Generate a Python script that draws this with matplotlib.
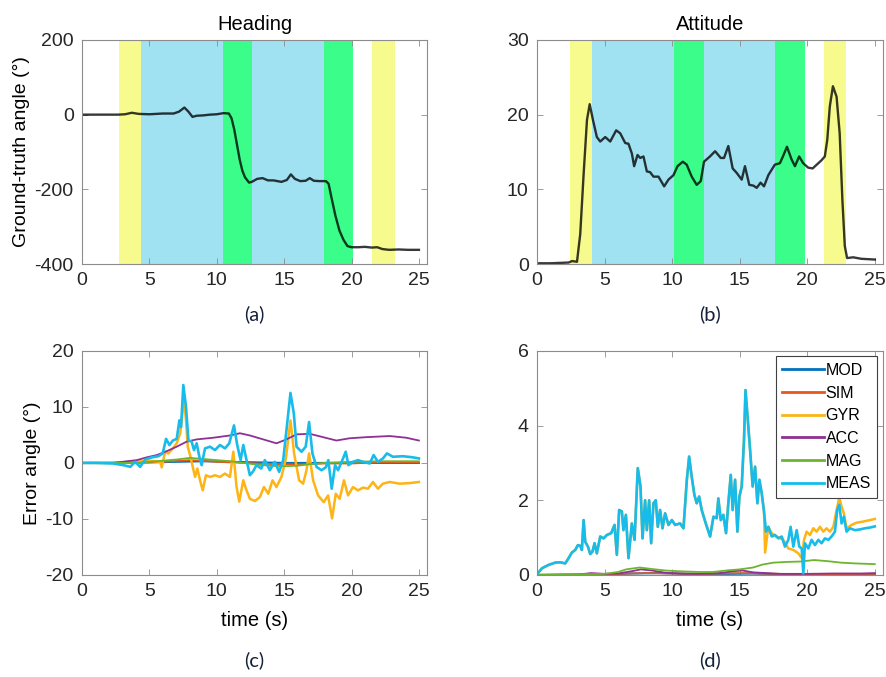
import numpy as np
import matplotlib
matplotlib.use("Agg")
import matplotlib.pyplot as plt

plt.rcParams['font.family'] = ['Liberation Sans', 'DejaVu Sans']
plt.rcParams['axes.unicode_minus'] = False

# ground truth heading (deg)
head_t = [0, 1, 2, 2.7, 3.2, 3.7, 4.2, 5, 6, 6.8, 7.2, 7.6, 7.9, 8.2, 8.5, 9, 9.5, 10, 10.5, 10.9,
          11.1, 11.3, 11.5, 11.7, 11.9, 12.1, 12.4, 12.6, 13, 13.4, 13.8, 14.2, 14.8, 15.2, 15.5, 15.8,
          16.2, 16.6, 16.9, 17.2, 17.6, 18.1, 18.3, 18.5, 18.8, 19.1, 19.4, 19.7, 20, 20.5, 21, 21.5,
          21.9, 22.3, 22.8, 23.5, 24.2, 25]
head_v = [0, 0, 0, 0, 1, 5, 2, 1, 3, 3, 8, 19, 8, -6, -3, -2, 0, 1, 4, 3,
          -10, -40, -80, -120, -150, -168, -182, -180, -172, -170, -176, -176, -180, -175, -160, -172,
          -178, -177, -170, -177, -178, -178, -185, -220, -270, -310, -335, -352, -355, -355, -354, -356,
          -355, -360, -362, -361, -362, -362]

# ground truth attitude (deg)
att_t = [0, 1, 2.34, 2.6, 2.96, 3.2, 3.45, 3.7, 3.9, 4.14, 4.43, 4.68, 5.05, 5.42, 5.86, 6.16, 6.53,
         6.77, 7.02, 7.19, 7.44, 7.64, 7.88, 8.13, 8.37, 8.62, 8.99, 9.41, 9.73, 10.1, 10.4, 10.79,
         11.08, 11.45, 11.82, 12.12, 12.36, 12.8, 13.18, 13.6, 13.84, 14.16, 14.48, 14.78, 15.15, 15.39,
         15.71, 16.01, 16.26, 16.55, 16.8, 17.12, 17.6, 17.98, 18.2, 18.5, 18.84, 19.09, 19.4, 19.7,
         20.07, 20.4, 20.7, 21.06, 21.3, 21.48, 21.67, 21.9, 22.17, 22.4, 22.6, 22.78, 22.95, 23.4,
         24.0, 25.0]
att_v = [0.1, 0.1, 0.2, 0.4, 0.3, 4, 12, 19.3, 21.4, 19.3, 17, 16.4, 17, 16.4, 17.9, 17.5, 16.2,
         16.1, 14.8, 13.1, 14.6, 14.2, 14.4, 12.4, 12.3, 11.7, 11.7, 10.4, 11.3, 11.9, 13.1, 13.7,
         13.3, 11.7, 10.6, 11.1, 13.7, 14.4, 15.1, 14.2, 14.2, 15.8, 12.8, 12.2, 11.3, 13.1,
         10.6, 10.5, 10.2, 10.9, 10.4, 11.9, 13.3, 13.5, 14.4, 15.7, 14.0, 13.1, 14.4, 13.5,
         12.9, 12.8, 13.3, 13.9, 14.4, 16.6, 21.1, 23.8, 22.4, 17.5, 8.6, 2.4, 0.8, 0.9,
         0.7, 0.6]

# motion phases (start, end, colour key)
head_phases = [(2.75, 4.35, 'y'), (4.35, 10.45, 'c'), (10.45, 12.65, 'g'), (12.65, 17.95, 'c'),
               (17.95, 20.1, 'g'), (21.55, 23.2, 'y')]
att_phases = [(2.45, 4.1, 'y'), (4.1, 10.15, 'c'), (10.15, 12.35, 'g'), (12.35, 17.65, 'c'),
              (17.65, 19.85, 'g'), (21.25, 22.85, 'y')]
phase_colors = {'y': '#F7FA8C', 'c': '#A0E1F2', 'g': '#3AFD8A'}

# heading errors
c_meas_t = [0, 1, 2.3, 3.08, 3.58, 3.95, 4.32, 4.69, 5.18, 5.67, 5.99, 6.24, 6.49, 6.74, 7.03, 7.23,
            7.35, 7.52, 7.72, 7.9, 8.14, 8.31, 8.51, 8.71, 8.88, 9.13, 9.5, 9.87, 10.24, 10.61, 10.93,
            11.28, 11.52, 11.77, 11.97, 12.21, 12.46, 12.7, 12.95, 13.3, 13.57, 13.94, 14.3, 14.63,
            14.93, 15.17, 15.47, 15.72, 15.92, 16.29, 16.6, 16.85, 17.1, 17.4, 17.77, 18.09, 18.28,
            18.53, 18.78, 19.0, 19.37, 19.57, 19.77, 20.11, 20.48, 20.85, 21.35, 21.64, 21.96, 22.33,
            22.63, 23.07, 23.81, 24.55, 25.0]
c_meas_v = [0, 0, -0.1, -0.4, -0.7, 0.2, -0.7, 0.6, 1.0, 1.2, 1.7, 4.3, 3.2, 4.0, 4.3, 7.6,
            6.4, 13.9, 10.0, 4.0, 3.8, 2.3, 3.5, 1.1, -0.4, 2.6, 2.9, 2.3, 3.2, 2.6, 3.5,
            6.7, 3.2, 0.5, 3.2, 0.5, -2.2, -1.5, -0.4, -1.0, 0.5, -1.3, 0.2, -1.6,
            0.5, 5.8, 12.5, 8.8, 2.9, 2.0, 2.9, 7.3, 1.7, -0.7, -1.3, -0.8, 0.5,
            -4.6, -0.4, -1.3, 0.8, 2.0, -0.4, 0.2, 0.5, 0.2, -0.1, 1.4, 0.2, 0.8,
            1.7, 1.1, 1.2, 1.0, 0.8]
c_gyr_t = [0, 2, 4, 5, 5.8, 5.92, 6.17, 6.41, 6.74, 7.03, 7.28, 7.43, 7.57, 7.72, 7.85, 8.02, 8.22,
           8.39, 8.56, 8.76, 8.96, 9.2, 9.5, 9.87, 10.24, 10.61, 10.98, 11.23, 11.47, 11.67, 11.97,
           12.21, 12.46, 12.83, 13.2, 13.5, 13.82, 14.14, 14.43, 14.8, 15.13, 15.47, 15.74, 16.11,
           16.41, 16.66, 16.85, 17.15, 17.52, 17.94, 18.26, 18.56, 18.83, 19.12, 19.44, 19.74, 20.11,
           20.48, 20.85, 21.22, 21.59, 21.96, 22.33, 22.83, 23.57, 24.3, 25.0]
c_gyr_v = [0, 0, 0.2, 0.4, 0.2, -0.8, 2.0, 1.7, 2.6, 3.5, 5.2, 8.2, 11.5, 7.6, 2.9, 1.4, -0.7,
           -2.5, -1.0, -3.1, -4.9, -2.2, -2.5, -2.2, -2.5, -1.9, -2.5, 2.0, -4.3, -6.9, -3.1,
           -4.9, -6.4, -6.8, -6.1, -4.3, -5.5, -3.1, -4.3, -2.5, 0.8, 7.6, 1.7, -3.1,
           -3.7, -1.3, 1.7, -3.1, -5.8, -7.0, -5.8, -9.9, -5.5, -6.4, -3.1, -5.8, -4.3,
           -4.9, -4.4, -4.6, -3.4, -4.6, -3.7, -3.4, -3.7, -3.6, -3.4]
c_acc_t = [0, 2.34, 3.33, 4.07, 4.81, 5.55, 6.29, 7.03, 7.77, 8.51, 9.75, 10.98, 11.72, 12.46, 13.45,
           14.43, 15.17, 15.92, 16.9, 17.89, 18.88, 19.86, 21.1, 22.83, 24.06, 25.0]
c_acc_v = [0, 0, 0.3, 0.5, 1.0, 1.4, 2.1, 2.9, 3.8, 4.2, 4.5, 4.9, 5.3, 4.9, 4.2,
           3.5, 4.2, 5.1, 5.2, 4.6, 4.0, 4.4, 4.6, 4.8, 4.5, 4.0]
c_mag_t = [0, 4, 5.5, 7, 8, 9, 10, 11, 12, 13, 14, 15, 16, 17, 18, 20, 22, 25]
c_mag_v = [0, 0, 0.3, 0.6, 0.9, 0.7, 0.5, 0.3, 0, -0.3, -0.5, -0.6, -0.5, -0.2, 0, 0.2, 0.3, 0.3]
c_sim_t = [0, 4, 6, 8, 10, 12, 14, 16, 18, 20, 22, 25]
c_sim_v = [0, 0, 0.2, 0.5, 0.2, 0, -0.2, -0.3, -0.1, -0.1, 0.1, 0.1]
c_mod_t = [0, 5, 7, 9, 11, 13, 15, 17, 20, 25]
c_mod_v = [0, 0.1, 0.2, 0.3, 0.2, 0.1, 0, 0, 0, 0]

# attitude errors
d_meas_t = [0, 0.37, 0.86, 1.35, 1.72, 2.09, 2.34, 2.58, 2.83, 3.03, 3.2, 3.32, 3.45, 3.57, 3.77,
            3.94, 4.11, 4.26, 4.43, 4.68, 4.93, 5.17, 5.49, 5.74, 5.91, 6.08, 6.28, 6.4, 6.58, 6.77,
            7.02, 7.22, 7.46, 7.66, 7.81, 8.0, 8.13, 8.3, 8.45, 8.62, 8.79, 8.94, 9.11, 9.29, 9.48,
            9.73, 9.98, 10.22, 10.59, 10.84, 11.09, 11.26, 11.45, 11.65, 11.82, 12.0, 12.19, 12.49,
            12.81, 13.06, 13.3, 13.42, 13.6, 13.79, 13.99, 14.16, 14.34, 14.48, 14.66, 14.83, 14.98,
            15.15, 15.32, 15.43, 15.64, 15.77, 15.96, 16.14, 16.31, 16.46, 16.63, 16.8]
d_meas_v = [0.02, 0.18, 0.27, 0.33, 0.34, 0.31, 0.45, 0.6, 0.67, 0.8, 0.78, 0.67, 1.47, 0.89, 0.76,
            0.56, 0.63, 0.85, 0.58, 1.03, 0.98, 1.07, 1.12, 1.34, 0.54, 1.74, 1.7, 1.2, 1.61, 0.45,
            1.38, 0.94, 2.86, 2.37, 0.98, 2.0, 1.2, 2.0, 0.85, 1.92, 2.0, 1.29, 1.74, 1.25, 1.65,
            1.34, 1.47, 1.34, 1.38, 1.25, 2.55, 3.17, 2.63, 2.14, 1.92, 2.1, 1.74, 1.38,
            1.03, 1.56, 1.52, 2.05, 1.47, 1.61, 1.12, 1.92, 2.68, 1.74, 2.55, 1.16, 2.1,
            2.37, 3.62, 4.95, 3.97, 3.35, 2.37, 2.9, 1.92, 2.55, 2.19, 1.7]
# after ~17 s MEAS and GYR split apart
d_meas_t_late = [16.95, 17.12, 17.37, 17.61, 17.86, 18.11, 18.35, 18.6, 18.77, 18.97, 19.22, 19.41,
                 19.59, 19.71, 19.83, 20.08, 20.32, 20.57, 20.82, 21.06, 21.31, 21.56, 21.8, 22.05,
                 22.22, 22.37, 22.54, 22.71, 22.91, 23.16, 23.53, 23.9, 24.27, 24.64, 25.0]
d_meas_v_late = [1.16, 1.29, 1.03, 1.07, 0.98, 1.03, 0.76, 0.94, 1.29, 0.76, 1.2, 0.76,
                 0.71, 0.04, 0.85, 0.71, 0.94, 0.8, 0.94, 0.85, 0.98, 0.94, 1.03, 1.16,
                 1.74, 1.88, 1.38, 1.56, 1.16, 1.25, 1.2, 1.22, 1.25, 1.27, 1.3]
d_gyr_t_late = [16.88, 17.12, 17.37, 17.74, 18.23, 18.6, 18.97, 19.34, 19.59, 19.76, 19.95, 20.2,
                20.45, 20.69, 20.94, 21.19, 21.43, 21.68, 21.93, 22.17, 22.37, 22.54, 22.71, 22.91,
                23.28, 23.65, 24.14, 24.64, 25.0]
d_gyr_v_late = [0.6, 1.29, 1.12, 1.03, 0.94, 0.71, 0.67, 0.58, 0.45, 0.94, 1.16, 1.07,
                1.25, 1.16, 1.29, 1.16, 1.25, 1.16, 1.29, 1.74, 2.07, 1.83, 1.65, 1.25,
                1.34, 1.4, 1.43, 1.47, 1.5]
d_acc_t = [0, 3, 4, 5, 6, 7, 7.7, 8.5, 9.5, 10.5, 12, 13.5, 14.5, 15.2, 16, 17, 18, 20, 22, 24, 25]
d_acc_v = [0, 0.01, 0.05, 0.03, 0.04, 0.1, 0.15, 0.12, 0.06, 0.04, 0.03, 0.05, 0.1, 0.12, 0.07,
           0.05, 0.03, 0.03, 0.04, 0.04, 0.05]
d_mag_t = [0, 3, 5, 6, 6.6, 7.6, 8.5, 9.5, 10.5, 12, 13, 14, 15, 16, 16.7, 17.5, 18.5, 19.5, 20.5,
           21.5, 22.5, 23.5, 25]
d_mag_v = [0.01, 0.02, 0.03, 0.08, 0.15, 0.2, 0.16, 0.12, 0.1, 0.08, 0.08, 0.12, 0.15, 0.2, 0.28,
           0.33, 0.35, 0.36, 0.4, 0.37, 0.33, 0.31, 0.29]
d_sim_t = [0, 5, 8, 12, 15, 18, 21, 25]
d_sim_v = [0, 0.02, 0.05, 0.03, 0.05, 0.03, 0.02, 0.03]
d_mod_t = [0, 5, 7, 9, 11, 14, 16, 18, 20, 25]
d_mod_v = [0, 0.01, 0.04, 0.05, 0.03, 0.03, 0.04, 0.02, 0.01, 0.01]

names = ['MOD', 'SIM', 'GYR', 'ACC', 'MAG', 'MEAS']
colors = ['#0072BD', '#E8561A', '#FDB414', '#8E3095', '#6CB52D', '#17BCEA']

fig = plt.figure(figsize=(8.87, 6.77), dpi=100)
ax_a = fig.add_axes([0.0924, 0.610, 0.389, 0.331])
ax_b = fig.add_axes([0.6054, 0.610, 0.390, 0.331])
ax_c = fig.add_axes([0.0924, 0.1507, 0.389, 0.331])
ax_d = fig.add_axes([0.6054, 0.1507, 0.390, 0.331])


def style(ax, ylim, yticks):
    ax.set_xlim(0, 25.6)
    ax.set_ylim(*ylim)
    ax.set_xticks([0, 5, 10, 15, 20, 25])
    ax.set_yticks(yticks)
    ax.tick_params(direction='in', length=4, width=0.6, top=True, right=True,
                   labelsize=14, colors='#8c8c8c', labelcolor='#262626', pad=6)
    for sp in ax.spines.values():
        sp.set_color('#8c8c8c')
        sp.set_linewidth(0.8)


for ax, phases in [(ax_a, head_phases), (ax_b, att_phases)]:
    for x0, x1, key in phases:
        ax.axvspan(x0, x1, color=phase_colors[key], lw=0, zorder=0)

ax_a.plot(head_t, head_v, color='black', alpha=0.78, lw=1.7, zorder=2)
ax_b.plot(att_t, att_v, color='black', alpha=0.78, lw=1.7, zorder=2)

style(ax_a, (-400, 200), [-400, -200, 0, 200])
style(ax_b, (0, 30), [0, 10, 20, 30])
ax_a.set_title('Heading', fontsize=14.5, pad=7)
ax_b.set_title('Attitude', fontsize=14.5, pad=7)
ax_a.set_ylabel('Ground-truth angle (°)', fontsize=14, labelpad=3)

c_series = [(c_mod_t, c_mod_v), (c_sim_t, c_sim_v), (c_gyr_t, c_gyr_v),
            (c_acc_t, c_acc_v), (c_mag_t, c_mag_v), (c_meas_t, c_meas_v)]
d_series = [(d_mod_t, d_mod_v), (d_sim_t, d_sim_v),
            (d_meas_t + d_gyr_t_late, d_meas_v + d_gyr_v_late),
            (d_acc_t, d_acc_v), (d_mag_t, d_mag_v),
            (d_meas_t + d_meas_t_late, d_meas_v + d_meas_v_late)]
widths = [1.5, 1.3, 1.8, 1.3, 1.3, 1.9]

for (t, v), name, col, w in zip(c_series, names, colors, widths):
    ax_c.plot(t, v, color=col, lw=w, label=name)
for (t, v), name, col, w in zip(d_series, names, colors, widths):
    ax_d.plot(t, v, color=col, lw=w, label=name)

style(ax_c, (-20, 20), [-20, -10, 0, 10, 20])
style(ax_d, (0, 6), [0, 2, 4, 6])
ax_c.set_ylabel('Error angle (°)', fontsize=14, labelpad=3)
ax_c.set_xlabel('time (s)', fontsize=14.5, labelpad=8)
ax_d.set_xlabel('time (s)', fontsize=14.5, labelpad=8)

leg = ax_d.legend(loc='upper right', fontsize=11.5, handlelength=2.6, handletextpad=0.1,
                  labelspacing=0.48, borderpad=0.4, fancybox=False, framealpha=1,
                  borderaxespad=0.35)
leg.get_frame().set_edgecolor('#404040')
leg.get_frame().set_linewidth(0.8)
for ln in leg.get_lines():
    ln.set_linewidth(2)

for ax, lab, y in [(ax_a, '(a)', 0.522), (ax_b, '(b)', 0.522), (ax_c, '(c)', 0.012), (ax_d, '(d)', 0.012)]:
    pos = ax.get_position()
    fig.text((pos.x0 + pos.x1) / 2, y, lab, ha='center', va='bottom', fontsize=14.5,
             color='#15203a', family=['Lato', 'DejaVu Sans'])

fig.savefig('out.png', dpi=100)
plt.close(fig)
